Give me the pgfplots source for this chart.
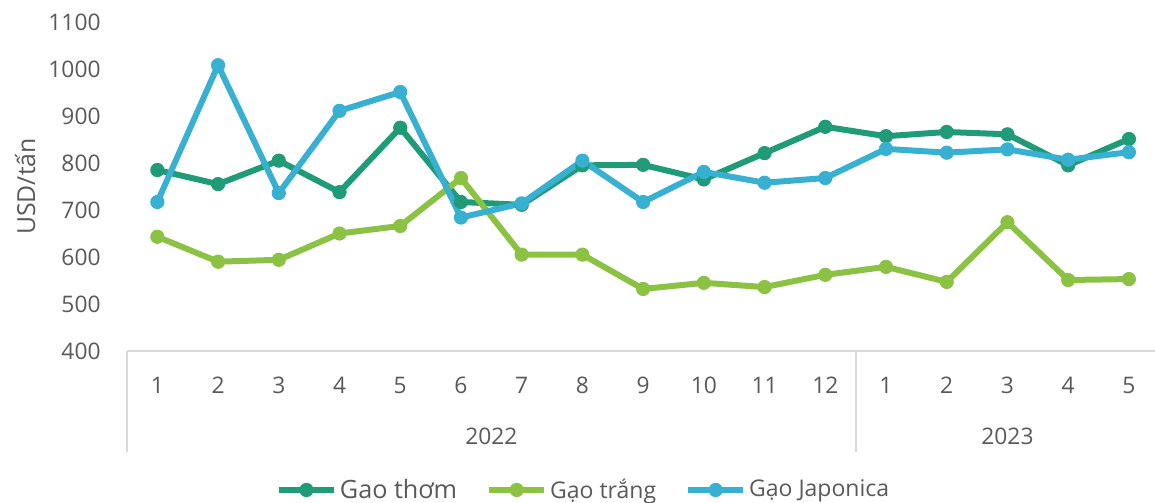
\documentclass[border=0pt]{standalone}
\usepackage{pgfplots}
\pgfplotsset{compat=1.18}
\usepackage{fontspec}
\setmainfont{Open Sans}
\definecolor{cA}{HTML}{1F9B77}
\definecolor{cB}{HTML}{8CC244}
\definecolor{cC}{HTML}{38B0D2}
\definecolor{txt}{HTML}{595959}
\definecolor{axl}{HTML}{D9D9D9}
\begin{document}
\begin{tikzpicture}
\begin{axis}[
 scale only axis, width=514bp, height=164.5bp,
 xmin=-0.5, xmax=16.43, ymin=400, ymax=1100,
 ytick={400,500,...,1100},
 xtick={0,...,16},
 xticklabels={1,2,3,4,5,6,7,8,9,10,11,12,1,2,3,4,5},
 axis x line*=bottom, axis y line*=left,
 x axis line style={draw=axl, line width=1bp, -},
 y axis line style={draw=none},
 major tick length=0pt,
 tick label style={font=\fontsize{11.4bp}{14bp}\selectfont, text=txt},
 /pgf/number format/assume math mode=true,
 /pgf/number format/1000 sep={},
 yticklabel style={anchor=east, inner sep=0pt, xshift=-13bp},
 xticklabel style={anchor=center, inner sep=0pt, yshift=-17bp},
 ylabel={USD/tấn},
 every axis y label/.style={at={(axis description cs:-0.099,0.5)}, rotate=90, anchor=center, font=\fontsize{12.4bp}{15bp}\selectfont, text=txt},
 clip=false,
 legend style={at={(axis description cs:0.4446,-0.4225)}, anchor=center, draw=none, fill=none, legend columns=3, font=\fontsize{11.5bp}{14bp}\selectfont, text=txt, /tikz/every even column/.append style={column sep=13bp}, inner sep=0pt, nodes={inner sep=1.5bp}},
 legend cell align=left,
 legend image code/.code={\draw[mark repeat=2,mark phase=2,#1] plot coordinates {(0bp,0bp) (13.75bp,0bp) (27.5bp,0bp)};},
 every axis plot/.append style={line width=3bp, mark=*, mark size=3.3bp, mark options={solid, line width=0.5bp}},
]
\addplot[color=cA] coordinates {(0,785)(1,755)(2,805)(3,738)(4,875)(5,717)(6,711)(7,795)(8,796)(9,765)(10,821)(11,877)(12,857)(13,866)(14,861)(15,795)(16,851)};
\addlegendentry{\fontsize{12.6bp}{15bp}\selectfont Gao thơm}
\addplot[color=cB] coordinates {(0,643)(1,590)(2,594)(3,650)(4,666)(5,768)(6,605)(7,605)(8,532)(9,545)(10,536)(11,562)(12,579)(13,547)(14,674)(15,551)(16,553)};
\addlegendentry{Gạo trắng}
\addplot[color=cC] coordinates {(0,717)(1,1008)(2,736)(3,911)(4,951)(5,684)(6,714)(7,805)(8,717)(9,781)(10,758)(11,768)(12,830)(13,822)(14,829)(15,807)(16,823)};
\addlegendentry{Gạo Japonica}
\draw[axl, line width=1bp] (axis cs:-0.5,400) -- ([yshift=-50.5bp]axis cs:-0.5,400);
\draw[axl, line width=1bp] (axis cs:11.5,400) -- ([yshift=-50.5bp]axis cs:11.5,400);
\node[font=\fontsize{11.4bp}{14bp}\selectfont, text=txt, yshift=-42.5bp] at (axis cs:5.5,400) {2022};
\node[font=\fontsize{11.4bp}{14bp}\selectfont, text=txt, yshift=-42.5bp] at (axis cs:14,400) {2023};
\coordinate (bl) at (rel axis cs:0,0);
\coordinate (tr) at (rel axis cs:1,1);
\end{axis}
\pgfresetboundingbox
\path ([xshift=-63.5bp,yshift=-76bp]bl) rectangle ([yshift=11bp]tr);
\end{tikzpicture}
\end{document}
